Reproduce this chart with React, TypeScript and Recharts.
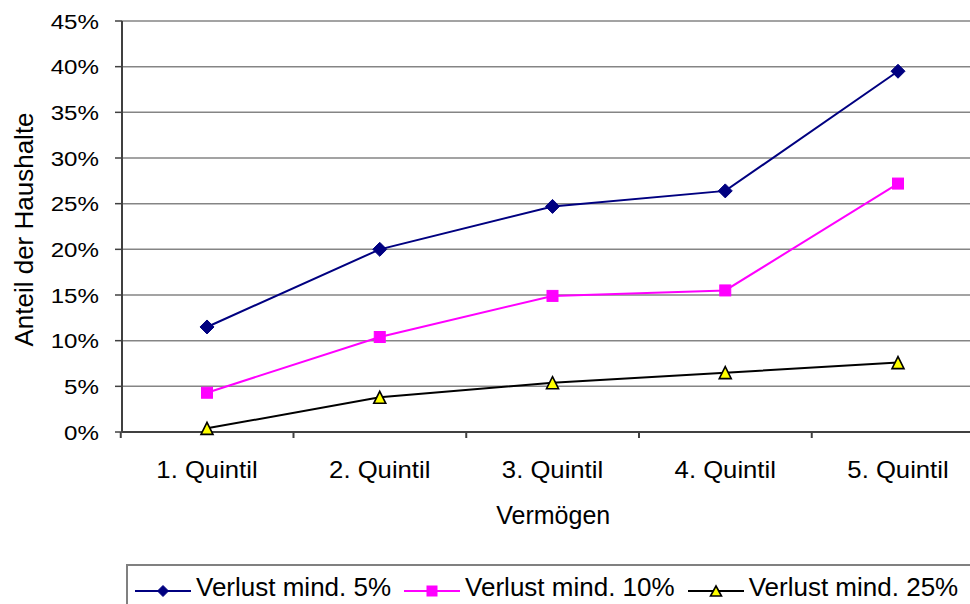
import React from 'react';
import { LineChart, Line, XAxis, YAxis, CartesianGrid, Label } from 'recharts';

const categories = ['1. Quintil', '2. Quintil', '3. Quintil', '4. Quintil', '5. Quintil'];
const verlust5 = [11.5, 20.0, 24.7, 26.4, 39.5];
const verlust10 = [4.3, 10.4, 14.9, 15.5, 27.2];
const verlust25 = [0.4, 3.8, 5.4, 6.5, 7.6];
const yTicks = [0, 5, 10, 15, 20, 25, 30, 35, 40, 45];

const seriesNames = ['Verlust mind. 5%', 'Verlust mind. 10%', 'Verlust mind. 25%'];

const data = categories.map((name, i) => ({
  name,
  v5: verlust5[i],
  v10: verlust10[i],
  v25: verlust25[i],
}));

const FONT = '"Liberation Sans", Arial, sans-serif';
const AXIS_COLOR = '#404040';
const GRID_COLOR = '#858585';

// layout (chart is wider than the page, right edge gets clipped like in the original)
const CHART_W = 1000;
const PLOT_LEFT = 122;
const PLOT_RIGHT = 984.5;
const STEP = (PLOT_RIGHT - PLOT_LEFT) / categories.length;

const Diamond = ({ cx, cy, r = 7, color }: any) => (
  <polygon
    points={`${cx},${cy - r} ${cx + r},${cy} ${cx},${cy + r} ${cx - r},${cy}`}
    fill={color}
    stroke={color}
    strokeWidth={1}
  />
);

const Square = ({ cx, cy, s = 11, color }: any) => (
  <rect x={cx - s / 2} y={cy - s / 2} width={s} height={s} fill={color} stroke={color} strokeWidth={1} />
);

const Triangle = ({ cx, cy, w = 12, h = 12 }: any) => (
  <polygon
    points={`${cx},${cy - h / 2} ${cx + w / 2},${cy + h / 2} ${cx - w / 2},${cy + h / 2}`}
    fill="#FFFF00"
    stroke="#000000"
    strokeWidth={1.6}
    strokeLinejoin="miter"
  />
);

const YTick = ({ x, y, payload }: any) => (
  <text
    transform={`translate(${x},${y}) scale(1.15,1)`}
    textAnchor="end"
    dy="0.36em"
    fontSize={21}
    fontFamily={FONT}
    fill="#000"
  >
    {payload.value}%
  </text>
);

const XTick = ({ x, y, payload, index }: any) => {
  const left = x - STEP / 2;
  const right = x + STEP / 2;
  return (
    <g>
      <line x1={left} y1={y} x2={left} y2={y + 6} stroke={AXIS_COLOR} strokeWidth={2} />
      {index === categories.length - 1 && (
        <line x1={right} y1={y} x2={right} y2={y + 6} stroke={AXIS_COLOR} strokeWidth={2} />
      )}
      <text
        transform={`translate(${x},${y + 46}) scale(1.07,1)`}
        textAnchor="middle"
        fontSize={24}
        fontFamily={FONT}
        fill="#000"
      >
        {payload.value}
      </text>
    </g>
  );
};

const LegendItem = ({ kind, color, label, last }: any) => (
  <div style={{ display: 'flex', alignItems: 'center', marginRight: last ? 0 : 13 }}>
    <svg width={56} height={20} style={{ marginRight: 5, display: 'block' }}>
      <line x1={0} y1={10} x2={56} y2={10} stroke={color} strokeWidth={2} />
      {kind === 'diamond' && <Diamond cx={28} cy={10} r={5.5} color={color} />}
      {kind === 'square' && <Square cx={28} cy={10} s={10} color={color} />}
      {kind === 'triangle' && <Triangle cx={28} cy={10} w={11} h={10} />}
    </svg>
    <span style={{ fontSize: 26, fontFamily: FONT, color: '#000', position: 'relative', top: -3, whiteSpace: 'nowrap' }}>
      {label}
    </span>
  </div>
);

export default function App() {
  return (
    <div
      style={{
        position: 'fixed',
        left: 0,
        top: 0,
        width: 970,
        height: 604,
        overflow: 'hidden',
        background: '#fff',
      }}
    >
      <LineChart
        width={CHART_W}
        height={604}
        data={data}
        margin={{ top: 21, right: CHART_W - PLOT_RIGHT, left: 0, bottom: 112 }}
      >
        <CartesianGrid vertical={false} stroke={GRID_COLOR} strokeWidth={1.5} />
        <XAxis
          dataKey="name"
          height={60}
          padding={{ left: 85, right: 86.5 }}
          axisLine={{ stroke: AXIS_COLOR, strokeWidth: 2 }}
          tickLine={false}
          tickSize={0}
          tickMargin={0}
          tick={<XTick />}
          interval={0}
        >
          <Label
            content={({ viewBox }: any) => (
              <text
                x={viewBox.x + viewBox.width / 2}
                y={viewBox.y + 92}
                textAnchor="middle"
                fontSize={25}
                fontFamily={FONT}
                fill="#000"
              >
                Vermögen
              </text>
            )}
          />
        </XAxis>
        <YAxis
          width={PLOT_LEFT}
          domain={[0, 45]}
          ticks={yTicks}
          interval={0}
          axisLine={{ stroke: AXIS_COLOR, strokeWidth: 2 }}
          tickLine={{ stroke: AXIS_COLOR, strokeWidth: 1.5 }}
          tickSize={7}
          tickMargin={16}
          tick={<YTick />}
        >
          <Label
            content={({ viewBox }: any) => {
              const cy = viewBox.y + viewBox.height / 2 + 3;
              return (
                <text
                  x={33}
                  y={cy}
                  transform={`rotate(-90, 33, ${cy})`}
                  textAnchor="middle"
                  fontSize={26}
                  fontFamily={FONT}
                  fill="#000"
                >
                  Anteil der Haushalte
                </text>
              );
            }}
          />
        </YAxis>
        <Line
          dataKey="v5"
          name={seriesNames[0]}
          stroke="#000080"
          strokeWidth={2}
          isAnimationActive={false}
          dot={(p: any) => <Diamond key={`d5-${p.index}`} cx={p.cx} cy={p.cy} color="#000080" />}
        />
        <Line
          dataKey="v10"
          name={seriesNames[1]}
          stroke="#FF00FF"
          strokeWidth={2}
          isAnimationActive={false}
          dot={(p: any) => <Square key={`d10-${p.index}`} cx={p.cx} cy={p.cy} color="#FF00FF" />}
        />
        <Line
          dataKey="v25"
          name={seriesNames[2]}
          stroke="#000000"
          strokeWidth={2}
          isAnimationActive={false}
          dot={(p: any) => <Triangle key={`d25-${p.index}`} cx={p.cx} cy={p.cy} />}
        />
      </LineChart>

      {/* legend box, runs off the right/bottom edge like the source */}
      <div
        style={{
          position: 'absolute',
          left: 126,
          top: 564,
          width: 900,
          height: 50,
          border: '2px solid #808080',
          boxSizing: 'border-box',
          paddingLeft: 7,
          paddingTop: 3,
          display: 'flex',
          alignItems: 'center',
        }}
      >
        <LegendItem kind="diamond" color="#000080" label={seriesNames[0]} />
        <LegendItem kind="square" color="#FF00FF" label={seriesNames[1]} />
        <LegendItem kind="triangle" color="#000000" label={seriesNames[2]} last />
      </div>
    </div>
  );
}
